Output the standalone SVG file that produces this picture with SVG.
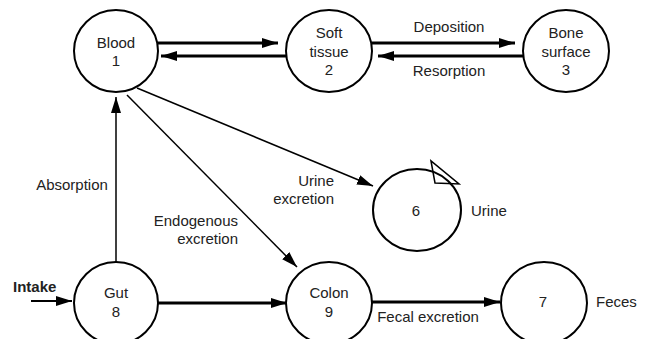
<svg xmlns="http://www.w3.org/2000/svg" width="645" height="339" viewBox="0 0 645 339">
<style>
.node ellipse{fill:#fff;stroke:#000;stroke-width:2}
text{font-family:"Liberation Sans",Arial,sans-serif;font-size:15px;fill:#222}
.c{text-anchor:middle}
.e{text-anchor:end}
.thick{stroke:#000;stroke-width:3;fill:none}
.thin{stroke:#000;stroke-width:1.5;fill:none}
</style>
<defs>
<marker id="ah" markerUnits="userSpaceOnUse" markerWidth="17" markerHeight="11" refX="16" refY="5" orient="auto" viewBox="0 0 17 11">
<path d="M0,0 L16,5 L0,10 z" fill="#000"/>
</marker>
</defs>
<rect width="645" height="339" fill="#fff"/>
<g id="connectors">
<line class="thick" x1="158" y1="43" x2="278" y2="43" marker-end="url(#ah)"/>
<line class="thick" x1="286" y1="56" x2="161" y2="56" marker-end="url(#ah)"/>
<line class="thick" x1="372" y1="43" x2="515" y2="43" marker-end="url(#ah)"/>
<line class="thick" x1="523" y1="56" x2="378" y2="56" marker-end="url(#ah)"/>
<line class="thin" x1="116" y1="262" x2="116" y2="97" marker-end="url(#ah)"/>
<line class="thin" x1="127" y1="95" x2="297" y2="267" marker-end="url(#ah)"/>
<line class="thin" x1="137" y1="88" x2="373" y2="186" marker-end="url(#ah)"/>
<line class="thick" x1="31" y1="301" x2="72" y2="301" marker-end="url(#ah)" style="stroke-width:2"/>
<line class="thick" x1="158" y1="303" x2="287" y2="303" marker-end="url(#ah)"/>
<line class="thick" x1="372" y1="302" x2="500" y2="302" marker-end="url(#ah)"/>
<text x="449" y="32" class="c">Deposition</text>
<text x="449" y="76" class="c">Resorption</text>
<text x="72" y="190" class="c">Absorption</text>
<text x="238" y="226" class="e">Endogenous</text>
<text x="238" y="244" class="e">excretion</text>
<text x="334" y="186" class="e">Urine</text>
<text x="334" y="204" class="e">excretion</text>
<text x="13" y="292" style="font-weight:bold">Intake</text>
<text x="428" y="322" class="c">Fecal excretion</text>
</g>
<g id="n1" class="node"><ellipse cx="116" cy="51" rx="42" ry="41"/><text x="116" y="48" class="c">Blood</text><text x="116" y="66" class="c">1</text></g>
<g id="n2" class="node"><ellipse cx="329" cy="51" rx="43" ry="41"/><text x="329" y="38" class="c">Soft</text><text x="329" y="57" class="c">tissue</text><text x="329" y="75" class="c">2</text></g>
<g id="n3" class="node"><ellipse cx="566" cy="51" rx="43" ry="41"/><text x="566" y="38" class="c">Bone</text><text x="566" y="57" class="c">surface</text><text x="566" y="75" class="c">3</text></g>
<g id="n6" class="node"><ellipse cx="417" cy="210" rx="44" ry="41"/><polygon points="431,161 435,183 459,184" fill="none" stroke="#000" stroke-width="1.5"/><text x="416" y="216" class="c">6</text><text x="471" y="216">Urine</text></g>
<g id="n8" class="node"><ellipse cx="116" cy="303" rx="42" ry="41"/><text x="116" y="298" class="c">Gut</text><text x="116" y="317" class="c">8</text></g>
<g id="n9" class="node"><ellipse cx="329" cy="303" rx="43" ry="41"/><text x="329" y="298" class="c">Colon</text><text x="329" y="317" class="c">9</text></g>
<g id="n7" class="node"><ellipse cx="544" cy="303" rx="43" ry="41"/><text x="543" y="307" class="c">7</text><text x="596" y="307">Feces</text></g>
</svg>
